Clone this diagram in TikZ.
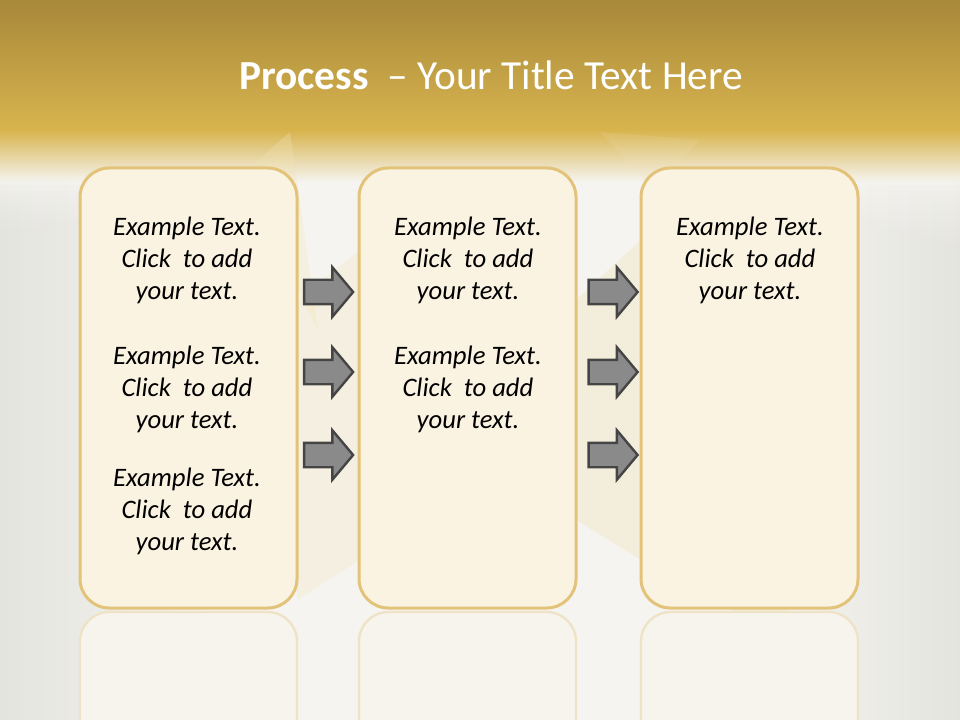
\documentclass[tikz,border=0pt]{standalone}
\usepackage{fontspec}
\setmainfont{Carlito}
\usetikzlibrary{shapes.arrows,positioning,calc}
\definecolor{goldtop}{HTML}{A8883A}
\definecolor{goldband}{HTML}{D8B44E}
\definecolor{backdrop}{HTML}{F5F4F0}
\definecolor{backedge}{HTML}{E4E4DF}
\definecolor{boxline}{HTML}{E3C37A}
\definecolor{boxfill}{HTML}{FAF3E2}
\definecolor{arrowfill}{HTML}{8A8A8A}
\definecolor{arrowline}{HTML}{454545}
\definecolor{shard}{HTML}{F2E4B6}
\tikzstyle{stage} =[draw=boxline, fill=boxfill, line width=2.25pt,
                    rounded corners=22pt, minimum width=162.75pt,
                    minimum height=330pt, inner sep=0pt]
\tikzstyle{echo}  =[stage, draw=boxline!35!backdrop, fill=boxfill!30!backdrop,
                    line width=1.8pt]
\tikzstyle{flow}  =[single arrow, draw=arrowline, fill=arrowfill,
                    line width=1.8pt, inner xsep=0pt, inner ysep=8.25pt,
                    minimum height=36.75pt, single arrow head extend=9.4pt,
                    single arrow tip angle=100]
\tikzstyle{blurb} =[align=center, inner sep=0pt,
                    font=\fontsize{20}{24}\selectfont\itshape]
\begin{document}
\begin{tikzpicture}[x=0.75pt, y=-0.75pt]
    \useasboundingbox (0,0) rectangle (960,720);
    % backdrop and title band
    \fill[backdrop] (0,0) rectangle (960,720);
    \shade[top color=goldtop, bottom color=goldband] (0,0) rectangle (960,130);
    \shade[top color=goldband, bottom color=backdrop] (0,130) rectangle (960,182);
    \foreach \k in {0,...,11} {
        \shade[opacity=0.18, left color=backedge, right color=backdrop]
            (0,180+6*\k) rectangle (210,720);
        \shade[opacity=0.12, left color=backdrop, right color=backedge]
            (770,180+6*\k) rectangle (960,720);
    }
    % faint shards
    \fill[shard, opacity=0.3] (240,176) -- (290,132) -- (318,330) -- cycle;
    \fill[shard, opacity=0.25] (297,300) -- (360,250) -- (360,560) -- (297,600) -- cycle;
    \fill[shard, opacity=0.35] (576,300) -- (641,240) -- (641,560) -- (576,520) -- cycle;
    \fill[shard, opacity=0.15] (600,132) -- (700,140) -- (655,190) -- cycle;
    \fill[shard, opacity=0.4] (730,608) -- (790,608) -- (765,645) -- cycle;
    % reflections
    \node[echo] (echo1) at (188.5,832) {};
    \node[echo] (echo2) at (467.5,832) {};
    \node[echo] (echo3) at (749.5,832) {};
    % stages
    \node[stage] (stage1) at (188.5,388) {};
    \node[stage] (stage2) at (467.5,388) {};
    \node[stage] (stage3) at (749.5,388) {};
    % arrows
    \node[flow] (gapA1) at (323.5,292) {};
    \node[flow] (gapA2) at (323.5,372) {};
    \node[flow] (gapA3) at (323.5,455) {};
    \node[flow] (gapB1) at (608,292) {};
    \node[flow] (gapB2) at (608,372) {};
    \node[flow] (gapB3) at (608,455) {};
    % texts
    \node[blurb] (textA1) at (187,260) {Example Text.\\Click\ \ to add\\your text.};
    \node[blurb] (textA2) at (187,389) {Example Text.\\Click\ \ to add\\your text.};
    \node[blurb] (textA3) at (187,511) {Example Text.\\Click\ \ to add\\your text.};
    \node[blurb] (textB1) at (468,260) {Example Text.\\Click\ \ to add\\your text.};
    \node[blurb] (textB2) at (468,389) {Example Text.\\Click\ \ to add\\your text.};
    \node[blurb] (textC1) at (750,260) {Example Text.\\Click\ \ to add\\your text.};
    \node[text=white, font=\fontsize{31}{37}\selectfont] (title) at (491,75)
        {\textbf{Process}\ \ – Your Title Text Here};
\end{tikzpicture}
\end{document}
